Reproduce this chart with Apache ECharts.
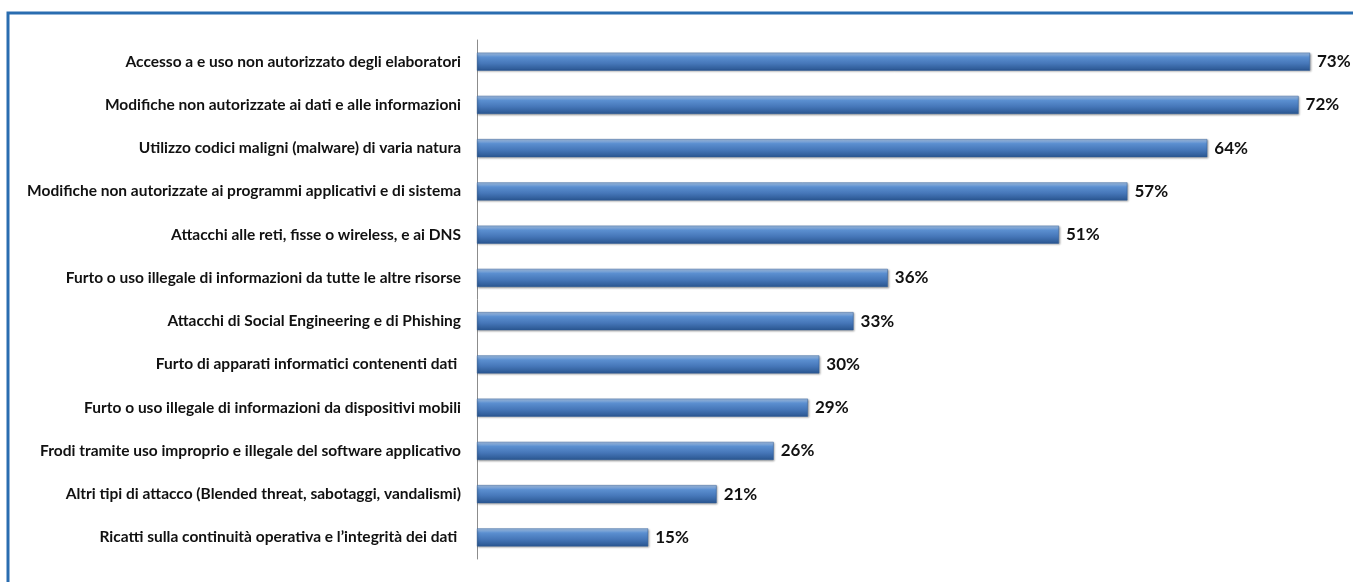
<!DOCTYPE html>
<html>
<head>
<meta charset="utf-8">
<script src="https://cdn.jsdelivr.net/npm/echarts@6/dist/echarts.min.js"></script>
<style>
  html, body { margin: 0; padding: 0; background: #fff; }
  #chart { width: 1353px; height: 582px; }
</style>
</head>
<body>
<div id="chart"></div>
<script>
// top to bottom as in the picture
const categories = [
  'Accesso a e uso non autorizzato degli elaboratori',
  'Modifiche non autorizzate ai dati e alle informazioni',
  'Utilizzo codici maligni (malware) di varia natura',
  'Modifiche non autorizzate ai programmi applicativi e di sistema',
  'Attacchi alle reti, fisse o wireless, e ai DNS',
  'Furto o uso illegale di informazioni da tutte le altre risorse',
  'Attacchi di Social Engineering e di Phishing',
  'Furto di apparati informatici contenenti dati ',
  'Furto o uso illegale di informazioni da dispositivi mobili',
  'Frodi tramite uso improprio e illegale del software applicativo',
  'Altri tipi di attacco (Blended threat, sabotaggi, vandalismi)',
  'Ricatti sulla continuità operativa e l\u2019integrità dei dati '
]
const values = [73, 72, 64, 57, 51, 36, 33, 30, 29, 26, 21, 15]

const chart = echarts.init(document.getElementById('chart'))

chart.setOption({
  backgroundColor: '#fff',
  animation: false,
  graphic: [
    {
      // blue frame, runs off the right and bottom edge
      type: 'rect',
      shape: { x: 8, y: 13, width: 1400, height: 640 },
      style: { fill: 'none', stroke: '#2a6db0', lineWidth: 3 }
    }
  ],
  grid: { left: 477, right: 43, top: 40, height: 519, containLabel: false },
  xAxis: {
    type: 'value',
    min: 0,
    max: 73,
    show: false
  },
  yAxis: {
    type: 'category',
    inverse: true,
    data: categories,
    axisLine: { show: true, lineStyle: { color: '#8c8c8c', width: 1 } },
    axisTick: { show: false },
    axisLabel: {
      margin: 16,
      color: '#111',
      fontFamily: 'Lato',
      fontWeight: 'bold',
      fontSize: 15.5
    }
  },
  series: [
    {
      type: 'bar',
      data: values,
      barWidth: 18,
      itemStyle: {
        color: new echarts.graphic.LinearGradient(0, 0, 0, 1, [
          { offset: 0, color: '#a9c6ea' },
          { offset: 0.25, color: '#5b8fd0' },
          { offset: 0.6, color: '#4677b9' },
          { offset: 1, color: '#2a5690' }
        ]),
        borderColor: '#2f5f9c',
        borderWidth: 0.5,
        shadowColor: 'rgba(0,0,0,0.35)',
        shadowBlur: 2,
        shadowOffsetX: 1,
        shadowOffsetY: 1
      },
      label: {
        show: true,
        position: 'right',
        distance: 7,
        formatter: '{c}%',
        color: '#111',
        fontFamily: 'Lato',
        fontWeight: 'bold',
        fontSize: 17
      }
    }
  ]
})
</script>
</body>
</html>
